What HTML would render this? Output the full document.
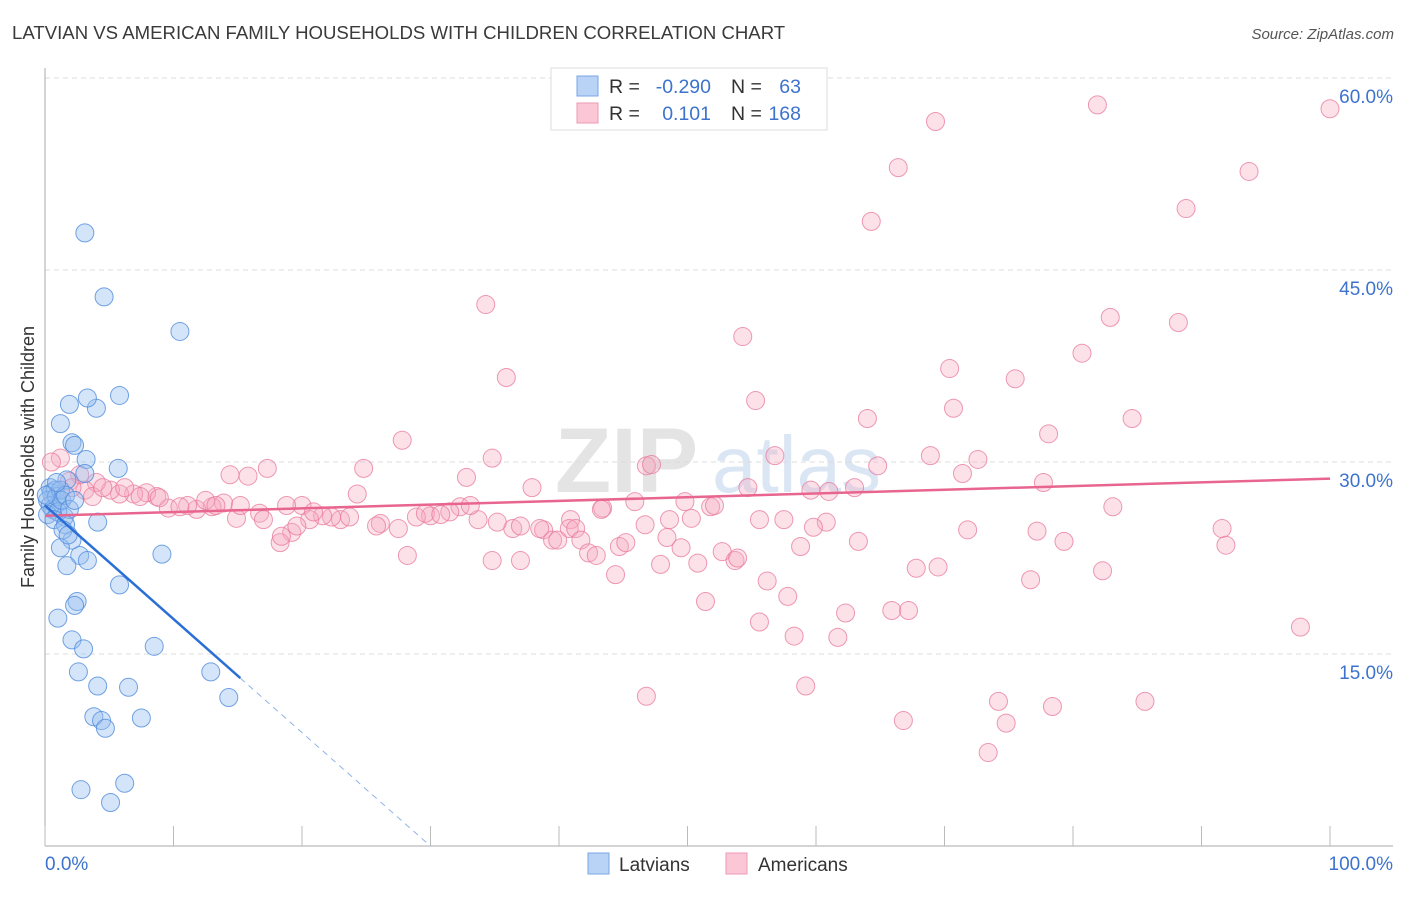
<!DOCTYPE html>
<html><head><meta charset="utf-8"><style>
body{margin:0;background:#fff;font-family:"Liberation Sans",sans-serif;}
svg text{font-family:"Liberation Sans",sans-serif;}
</style></head><body>
<svg id="chart" width="1406" height="892" xmlns="http://www.w3.org/2000/svg">
<text x="12" y="39" font-size="18.6" fill="#3a3a3a">LATVIAN VS AMERICAN FAMILY HOUSEHOLDS WITH CHILDREN CORRELATION CHART</text>
<text x="1394" y="39" font-size="15" fill="#555" text-anchor="end" font-style="italic">Source: ZipAtlas.com</text>
<text x="555" y="492" font-size="92" fill="#e4e4e4" font-family="Liberation Serif" font-weight="bold">ZIP</text>
<text x="712" y="492" font-size="80" fill="#dbe6f4">atlas</text>
<g id="grid"></g>
<g id="axes"></g>
<g id="pts"></g>
<g id="trends"></g>
<text transform="translate(34,457) rotate(-90)" font-size="18" fill="#333" text-anchor="middle">Family Households with Children</text>
<g>
<rect x="551" y="68" width="276" height="62" fill="#fff" stroke="#ddd"/>
<rect x="577" y="76" width="21" height="20" fill="#b8d3f5" stroke="#7aa6e4"/>
<rect x="577" y="103" width="21" height="20" fill="#fbc6d5" stroke="#ee9ab4"/>
<text x="609" y="93" font-size="19.5" fill="#333">R =</text>
<text x="711" y="93" font-size="19.5" fill="#3d73cc" text-anchor="end">-0.290</text>
<text x="731" y="93" font-size="19.5" fill="#333">N =</text>
<text x="801" y="93" font-size="19.5" fill="#3d73cc" text-anchor="end">63</text>
<text x="609" y="120" font-size="19.5" fill="#333">R =</text>
<text x="711" y="120" font-size="19.5" fill="#3d73cc" text-anchor="end">0.101</text>
<text x="731" y="120" font-size="19.5" fill="#333">N =</text>
<text x="801" y="120" font-size="19.5" fill="#3d73cc" text-anchor="end">168</text>
</g>
<g>
<rect x="588" y="853" width="21" height="21" fill="#b8d3f5" stroke="#7aa6e4"/>
<text x="619" y="871" font-size="19" fill="#333">Latvians</text>
<rect x="726" y="853" width="21" height="21" fill="#fbc6d5" stroke="#ee9ab4"/>
<text x="758" y="871" font-size="19" fill="#333">Americans</text>
</g>
</svg>
<script>
const yTicks=[15,30,45,60];
const yTickLabels=["15.0%","30.0%","45.0%","60.0%"];
const xTicks=[0,10,20,30,40,50,60,70,80,90,100];
const xTickLabels=["0.0%","100.0%"];
const americansX=[81.9,100,69.3,66.4,93.7,88.8,64.3,34.3,54.3,82.9,88.2,80.7,35.9,70.4,75.5,55.3,70.7,64.0,84.6,27.8,78.1,68.9,34.8,56.8,64.8,72.6,46.8,47.2,24.8,17.3,15.8,71.4,32.8,37.9,54.7,77.7,24.3,83.1,61.0,63.0,59.6,49.8,45.9,43.4,51.8,52.1,50.3,46.7,43.3,57.5,60.8,59.8,40.9,40.8,38.8,36.4,33.7,32.3,31.5,30.0,28.9,26.1,25.8,23.0,22.3,21.6,20.0,18.8,20.6,19.2,18.3,16.7,14.9,13.9,13.0,11.8,11.1,9.6,8.7,7.9,6.9,5.8,5.1,4.0,3.1,2.7,1.9,1.2,0.5,2.1,3.7,4.5,6.2,7.4,8.9,10.5,12.5,13.3,15.2,17.0,19.6,20.9,23.7,27.5,29.6,30.8,33.1,35.2,37.0,38.5,39.5,39.9,41.3,41.7,42.3,42.9,44.7,45.2,47.9,48.4,48.6,49.5,50.8,52.7,53.7,53.9,55.6,58.8,63.3,71.8,77.2,79.3,91.6,91.9,28.2,34.8,37.0,44.4,56.2,57.8,51.4,67.8,69.5,76.7,82.3,62.3,65.9,67.2,55.6,58.3,61.7,97.7,46.8,59.2,74.2,78.4,85.6,66.8,74.8,73.4,18.4,14.4];
const americansY=[57.9,57.6,56.6,53.0,52.7,49.8,48.8,42.3,39.8,41.3,40.9,38.5,36.6,37.3,36.5,34.8,34.2,33.4,33.4,31.7,32.2,30.5,30.3,30.5,29.7,30.2,29.7,29.8,29.5,29.5,28.9,29.1,28.8,28.0,28.0,28.4,27.5,26.5,27.7,28.0,27.8,26.9,26.9,26.4,26.5,26.6,25.6,25.1,26.3,25.5,25.3,24.9,25.5,24.8,24.7,24.8,25.5,26.5,26.1,25.8,25.7,25.2,25.0,25.5,25.7,25.8,26.6,26.6,25.5,24.5,23.7,26.0,25.6,26.8,26.5,26.3,26.6,26.4,27.3,27.6,27.5,27.5,27.8,28.4,27.8,29.0,28.5,30.3,30.0,28.0,27.3,28.0,28.0,27.3,27.2,26.5,27.0,26.6,26.6,25.5,25.0,26.1,25.7,24.8,26.0,25.9,26.6,25.3,25.0,24.8,23.9,23.9,24.8,23.9,22.9,22.7,23.4,23.7,22.0,24.1,25.5,23.3,22.1,23.0,22.3,22.5,25.5,23.4,23.8,24.7,24.6,23.8,24.8,23.5,22.7,22.3,22.3,21.2,20.7,19.5,19.1,21.7,21.8,20.8,21.5,18.2,18.4,18.4,17.5,16.4,16.3,17.1,11.7,12.5,11.3,10.9,11.3,9.8,9.6,7.3,24.2,29.0];
const latviansX=[3.1,4.6,10.5,1.9,4.0,3.3,5.8,1.2,2.1,2.3,3.2,5.7,3.1,1.7,1.0,1.5,4.1,2.1,1.2,9.1,2.7,3.3,1.7,5.8,2.5,2.3,1.0,2.1,8.5,3.0,2.6,4.1,6.5,12.9,3.8,4.4,4.7,7.5,14.3,2.8,6.2,5.1,0.4,0.5,0.8,0.2,0.4,0.6,0.9,1.2,0.2,1.0,1.3,1.6,1.9,0.7,0.1,1.6,1.4,1.8,0.9,2.3];
const latviansY=[47.9,42.9,40.2,34.5,34.2,35.0,35.2,33.0,31.5,31.3,30.2,29.5,29.1,28.6,26.8,25.7,25.3,23.9,23.3,22.8,22.7,22.3,21.9,20.4,19.1,18.8,17.8,16.1,15.6,15.4,13.6,12.5,12.4,13.6,10.1,9.8,9.2,10.0,11.6,4.4,4.9,3.4,28.0,27.6,27.8,27.0,26.6,26.3,27.3,27.8,25.9,26.1,27.0,27.4,26.3,25.5,27.4,25.1,24.7,24.3,28.4,27.0];
const americansTrend=[25.8,28.7];
const latviansTrend=[26.6,-0.887];
const latviansSolidEnd=15.2, latviansDashEnd=30;

const NS="http://www.w3.org/2000/svg";
const X0=45,X1=1330,Y0=846,PX=12.8;
const sx=v=>X0+(X1-X0)*v/100, sy=v=>Y0-v*PX;
function mk(tag,attrs,parent){const e=document.createElementNS(NS,tag);for(const k in attrs)e.setAttribute(k,attrs[k]);parent.appendChild(e);return e;}
const grid=document.getElementById('grid'),axes=document.getElementById('axes'),pts=document.getElementById('pts'),tr=document.getElementById('trends');
yTicks.forEach((t,i)=>{
 const l=mk('line',{x1:X0,x2:1393,y1:sy(t),y2:sy(t),stroke:'#dcdcdc','stroke-dasharray':'5,4'},grid);
 
 
 const tx=mk('text',{x:1393,y:sy(t)+25,'font-size':19,fill:'#3d73cc','text-anchor':'end'},grid);
 tx.textContent=yTickLabels[i];
 
 
});
const ax=mk('line',{x1:X0,x2:1393,y1:Y0,y2:Y0,stroke:'#aaa'},axes);


const ay=mk('line',{x1:X0,x2:X0,y1:68,y2:Y0,stroke:'#aaa'},axes);


xTicks.forEach(t=>{
 const l=mk('line',{x1:sx(t),x2:sx(t),y1:826,y2:Y0,stroke:'#bbb'},axes);
 
 
});
const xl0=mk('text',{x:X0,y:870,'font-size':19,fill:'#3d73cc'},axes);xl0.textContent=xTickLabels[0];


const xl1=mk('text',{x:1393,y:870,'font-size':19,fill:'#3d73cc','text-anchor':'end'},axes);xl1.textContent=xTickLabels[1];


americansX.forEach((v,i)=>{
 const c=mk('circle',{cx:sx(v),cy:sy(americansY[i]),r:9,fill:'rgba(246,168,192,0.35)',stroke:'rgba(232,120,156,0.75)','stroke-width':1},pts);
 
 
});
latviansX.forEach((v,i)=>{
 const c=mk('circle',{cx:sx(v),cy:sy(latviansY[i]),r:9,fill:'rgba(150,190,240,0.4)',stroke:'rgba(80,140,220,0.8)','stroke-width':1},pts);
 
 
});
const pt=mk('line',{x1:sx(0),y1:sy(americansTrend[0]),x2:sx(100),y2:sy(americansTrend[1]),stroke:'#e8658f','stroke-width':2.5},tr);


const ly=x=>latviansTrend[0]+latviansTrend[1]*x;
const bt=mk('line',{x1:sx(0),y1:sy(ly(0)),x2:sx(latviansSolidEnd),y2:sy(ly(latviansSolidEnd)),stroke:'#2a6fd6','stroke-width':2.5},tr);


const bd=mk('line',{x1:sx(latviansSolidEnd),y1:sy(ly(latviansSolidEnd)),x2:sx(latviansDashEnd),y2:sy(ly(latviansDashEnd)),stroke:'#8fb3e8','stroke-width':1,'stroke-dasharray':'6,5'},tr);


</script>
</body></html>
